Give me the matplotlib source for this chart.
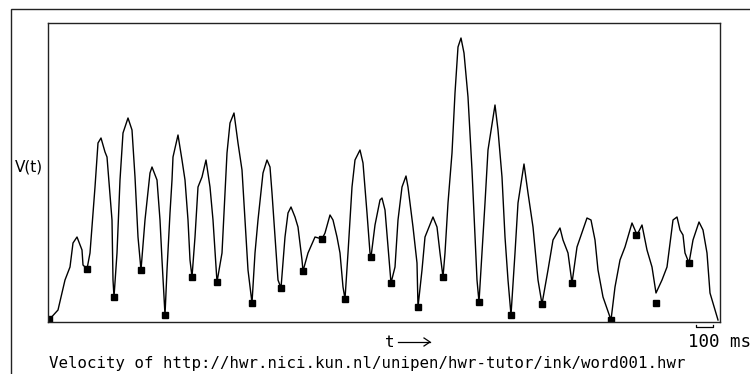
import numpy as np
from matplotlib import pyplot as plt
from matplotlib.patches import Rectangle

# velocity trace (t in screen samples, 17 samples = 100 ms)
t = [0, 10, 17, 22, 25, 29, 34, 35, 39,
     42, 47, 50, 53, 57, 59, 64, 65, 66,
     69, 72, 75, 80, 84, 87, 90, 93,
     97, 102, 104, 109, 112, 114, 117,
     119, 122, 124, 125, 130, 134, 137, 140, 142, 144,
     147, 150, 154, 158, 162, 165, 168, 169,
     174, 177, 179, 182, 186, 190, 194, 197, 200, 204,
     207, 210, 215, 219, 222, 224, 227, 230, 233,
     237, 240, 243, 247, 250, 254, 255,
     260, 267, 274, 277, 282, 285, 289, 292, 295, 297,
     300, 304, 307, 312, 315, 319, 322, 323,
     327, 332, 334, 337, 340, 343,
     347, 350, 354, 358, 360, 365, 369, 370,
     374, 377, 385, 389, 392, 395,
     397, 400, 404, 407, 410, 413, 416, 420, 424, 427, 429, 431,
     434, 437, 440, 447, 450, 454, 457, 460, 463,
     467, 470, 476, 480, 485, 490, 494,
     500, 505, 512, 515, 520, 524,
     529, 539, 543, 547, 550, 555, 563,
     567, 572, 577, 584, 587, 589, 594, 599, 604, 608,
     614, 619, 625, 629, 632, 635, 637, 641,
     645, 651, 655, 659, 662, 665, 670]
v = [1, 12, 42, 55, 79, 85, 72, 57, 53,
     69, 135, 179, 184, 170, 165, 102, 42, 25,
     69, 142, 189, 204, 192, 145, 85, 52,
     102, 149, 155, 142, 102, 62, 7,
     52, 109, 142, 165, 187, 162, 142, 102, 62, 45,
     85, 135, 145, 162, 135, 102, 55, 40,
     69, 129, 169, 199, 209, 179, 152, 102, 52, 19,
     69, 102, 149, 162, 155, 129, 85, 42, 34,
     85, 109, 115, 105, 95, 62, 51,
     69, 85, 83, 89, 107, 102, 85, 69, 35, 23,
     69, 135, 162, 172, 159, 109, 69, 65,
     97, 122, 124, 112, 75, 39,
     55, 102, 135, 146, 135, 95, 59, 15,
     52, 85, 105, 95, 69, 45,
     69, 119, 169, 229, 275, 284, 269, 225, 152, 85, 42, 20,
     69, 119, 172, 217, 192, 145, 85, 42, 7,
     69, 119, 158, 129, 95, 42, 18,
     52, 82, 94, 82, 69, 39,
     75, 104, 102, 82, 52, 25, 2,
     35, 62, 75, 99, 92, 87, 97, 72, 55, 29,
     42, 55, 102, 105, 92, 87, 69, 59,
     82, 100, 92, 69, 29, 19, 2]

# pen-velocity minima marked with squares
t_min = [1, 39, 66, 93, 117, 144, 169, 204, 233, 255, 274, 297, 323, 343,
         370, 395, 431, 463, 494, 524, 563, 588, 608, 641]
v_min = [3, 53, 25, 52, 7, 45, 40, 19, 34, 51, 83, 23, 65, 39,
         15, 45, 20, 7, 18, 39, 2, 87, 19, 59]

scale_bar = 17  # samples in 100 ms

fig = plt.figure(figsize=(7.5, 3.74), dpi=100)
ax = fig.add_axes([48/750, 52/374, 672/750, 299/374])
ax.plot(t, v, color='black', lw=1.0)
ax.plot(t_min, v_min, 's', color='black', ms=4)
ax.set_xlim(0, 672)
ax.set_ylim(0, 299)
ax.set_xticks([])
ax.set_yticks([])
for s in ax.spines.values():
    s.set_linewidth(1.0)
    s.set_color('#222222')

# 100 ms scale bar under the right corner
x0 = 648
ax.plot([x0, x0, x0 + scale_bar, x0 + scale_bar], [-2.5, -5, -5, -2.5],
        color='black', lw=0.9, clip_on=False)

# outer frame, runs off the right and bottom edges
fig.patches.append(Rectangle((11/750, -0.5), 2, 0.5 + 1 - 9/374, fill=False,
                             lw=1.0, edgecolor='#222222', transform=fig.transFigure))

fig.text(15/750, 1 - 167/374, 'V(t)', fontsize=11, va='center', ha='left')
fig.text(385/750, 1 - 347/374, 't', fontsize=11.5, family='DejaVu Sans Mono',
         va='baseline', ha='left')
fig.add_artist(plt.Line2D([398/750, 430/750], [1 - 342/374] * 2, color='black', lw=0.9))
fig.add_artist(plt.Line2D([424/750, 430/750, 424/750],
                          [1 - 338/374, 1 - 342/374, 1 - 346/374], color='black', lw=0.9))
fig.text(688/750, 1 - 347/374, '100 ms', fontsize=12.6, family='DejaVu Sans Mono',
         va='baseline', ha='left')
fig.text(49/750, 1 - 368/374,
         'Velocity of http://hwr.nici.kun.nl/unipen/hwr-tutor/ink/word001.hwr',
         fontsize=11.35, family='DejaVu Sans Mono', va='baseline', ha='left')

plt.savefig('out.png', dpi=100)
